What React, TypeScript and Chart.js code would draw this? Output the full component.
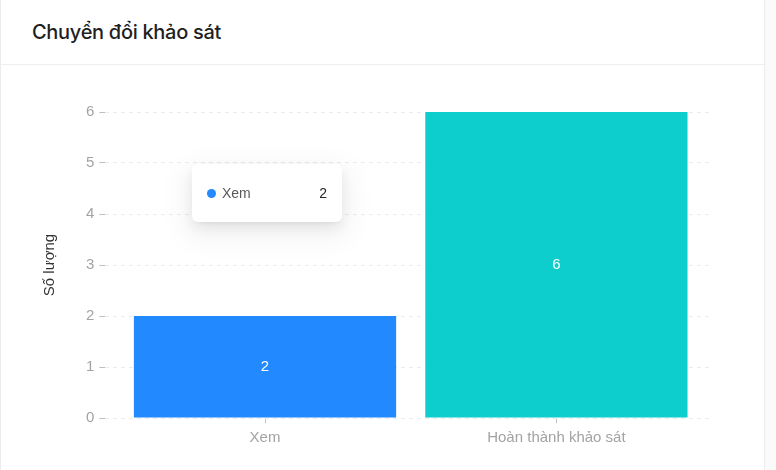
import React, { useEffect, useRef, useState } from 'react';
import { Chart, BarController, BarElement, LinearScale, Tooltip } from 'chart.js';

Chart.register(BarController, BarElement, LinearScale, Tooltip);

const CATEGORIES = ['Xem', 'Hoàn thành khảo sát'];
const COUNTS = [2, 6];
const BAR_COLORS = ['#2389ff', '#0ecdcd'];
const Y_TICKS = [0, 1, 2, 3, 4, 5, 6];
const SERIES_NAME = 'Số lượng';

const AXIS_FONT = "'Liberation Sans', Arial, sans-serif";

// tooltip stays where the pointer "was"
(Tooltip.positioners as any).pinned = (_els: any, pos: { x: number; y: number }) => pos;

const barValueLabels = {
    id: 'barValueLabels',
    afterDatasetsDraw(chart: Chart) {
        const { ctx } = chart;
        chart.data.datasets.forEach((ds, di) => {
            const meta = chart.getDatasetMeta(di);
            meta.data.forEach((el, i) => {
                const { x, y, base } = (el as any).getProps(['x', 'y', 'base'], true);
                const raw = ds.data[i] as any;
                ctx.save();
                ctx.fillStyle = '#ffffff';
                ctx.font = `15px ${AXIS_FONT}`;
                ctx.textAlign = 'center';
                ctx.textBaseline = 'middle';
                ctx.fillText(String(raw.y), x, (y + base) / 2);
                ctx.restore();
            });
        });
    },
};

type Tip = { x: number; y: number; label: string; value: number; color: string } | null;

const App: React.FC = () => {
    const canvasRef = useRef<HTMLCanvasElement>(null);
    const chartRef = useRef<Chart | null>(null);
    const [tip, setTip] = useState<Tip>(null);

    useEffect(() => {
        if (!canvasRef.current) return;
        chartRef.current?.destroy();

        const chart = new Chart(canvasRef.current, {
            type: 'bar',
            data: {
                datasets: [
                    {
                        label: SERIES_NAME,
                        data: CATEGORIES.map((_, i) => ({ x: i, y: COUNTS[i] })),
                        backgroundColor: BAR_COLORS,
                        hoverBackgroundColor: BAR_COLORS,
                        borderWidth: 0,
                        categoryPercentage: 1,
                        barPercentage: 0.9,
                    },
                ],
            },
            plugins: [barValueLabels],
            options: {
                responsive: false,
                animation: false,
                events: [],
                layout: { padding: { left: 37, right: 54, top: 48, bottom: 17 } },
                scales: {
                    x: {
                        type: 'linear',
                        offset: false,
                        min: -0.548,
                        max: CATEGORIES.length - 1 + 0.534,
                        afterBuildTicks: (scale: any) => {
                            scale.ticks = CATEGORIES.map((_, i) => ({ value: i }));
                        },
                        ticks: {
                            autoSkip: false,
                            maxRotation: 0,
                            padding: 6,
                            color: '#a3a3a3',
                            font: { family: AXIS_FONT, size: 15 },
                            callback: (v: any) => CATEGORIES[v] ?? '',
                        },
                        grid: {
                            offset: false,
                            drawOnChartArea: false,
                            drawTicks: true,
                            tickLength: 5,
                            tickColor: '#bfbfbf',
                        },
                        border: { display: false },
                    },
                    y: {
                        type: 'linear',
                        min: Y_TICKS[0],
                        max: Y_TICKS[Y_TICKS.length - 1],
                        ticks: {
                            stepSize: 1,
                            padding: 5,
                            color: '#a3a3a3',
                            font: { family: AXIS_FONT, size: 15 },
                        },
                        grid: {
                            color: '#ebebeb',
                            tickColor: '#bfbfbf',
                            tickLength: 6,
                        },
                        border: { display: false, dash: [4, 4] },
                        title: {
                            display: true,
                            text: SERIES_NAME,
                            color: '#333333',
                            padding: { top: 4, bottom: 22 },
                            font: { family: AXIS_FONT, size: 15 },
                        },
                    },
                },
                plugins: {
                    legend: { display: false },
                    tooltip: {
                        enabled: false,
                        position: 'pinned' as any,
                        external: ({ tooltip }: any) => {
                            if (!tooltip || tooltip.opacity === 0 || !tooltip.dataPoints?.length) {
                                setTip(null);
                                return;
                            }
                            const dp = tooltip.dataPoints[0];
                            setTip({
                                x: tooltip.caretX,
                                y: tooltip.caretY,
                                label: CATEGORIES[dp.dataIndex],
                                value: dp.parsed.y,
                                color: tooltip.labelColors[0].backgroundColor,
                            });
                        },
                    },
                },
            },
        });
        chartRef.current = chart;
        chart.tooltip?.setActiveElements([{ datasetIndex: 0, index: 0 }], { x: 192, y: 100 });

        return () => {
            chartRef.current?.destroy();
            chartRef.current = null;
        };
    }, []);

    return (
        <div style={{ position: 'fixed', left: 0, top: 0, width: 776, height: 470, background: '#fafafa', overflow: 'hidden' }}>
            <div
                style={{
                    position: 'absolute', left: 0, top: -1, width: 765, height: 480,
                    background: '#ffffff', border: '1px solid #ececec', boxSizing: 'border-box',
                }}
            >
                <div
                    style={{
                        height: 65, boxSizing: 'border-box', borderBottom: '1px solid #eeeeee',
                        display: 'flex', alignItems: 'center', paddingLeft: 31,
                        fontFamily: "Inter, 'Noto Sans', sans-serif", fontSize: 20, fontWeight: 500,
                        color: '#1f1f1f', letterSpacing: -0.3,
                    }}
                >
                    Chuyển đổi khảo sát
                </div>
            </div>
            <div style={{ position: 'absolute', left: 0, top: 64, width: 766, height: 406 }}>
                <canvas ref={canvasRef} width={766} height={406} />
                {tip && (
                    <div
                        style={{
                            position: 'absolute', left: tip.x, top: tip.y, width: 150, height: 58,
                            boxSizing: 'border-box', background: '#ffffff', borderRadius: 6,
                            boxShadow: '0 3px 6px -4px rgba(0,0,0,0.12), 0 6px 16px 0 rgba(0,0,0,0.08), 0 9px 28px 8px rgba(0,0,0,0.05)',
                            display: 'flex', alignItems: 'center', padding: '0 15px 0 15px',
                            fontFamily: AXIS_FONT, fontSize: 14, pointerEvents: 'none',
                        }}
                    >
                        <span style={{ width: 9, height: 9, borderRadius: '50%', background: tip.color, marginRight: 6, display: 'inline-block' }} />
                        <span style={{ color: '#595959', flex: 1 }}>{tip.label}</span>
                        <span style={{ color: '#262626' }}>{tip.value}</span>
                    </div>
                )}
            </div>
        </div>
    );
};

export default App;
